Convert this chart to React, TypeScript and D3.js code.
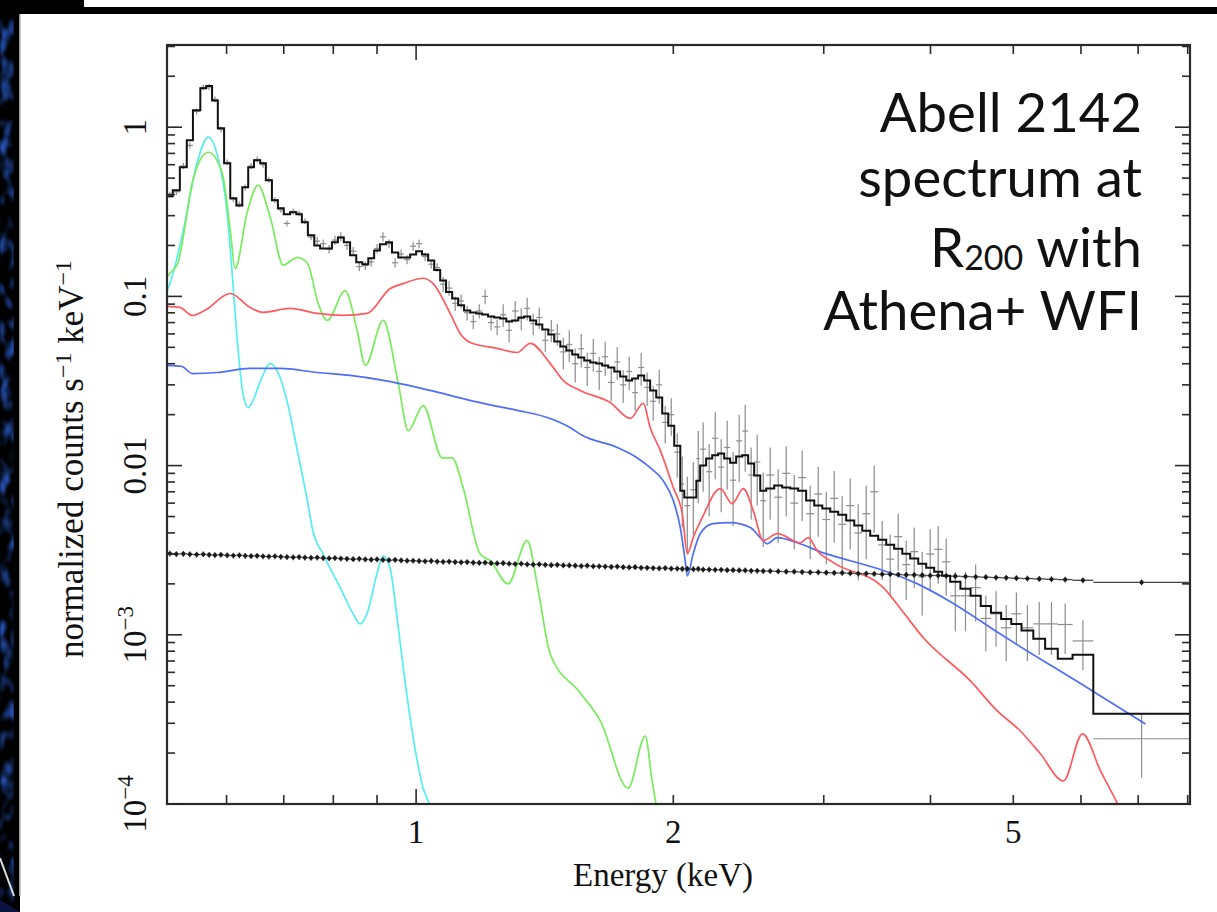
import React, { useEffect, useRef } from "react";
import * as d3 from "d3";

// Spectral bins (keV edges) shared by the data, the total model and the particle background
const binEdges = [
  0.511, 0.519, 0.529, 0.539, 0.548, 0.559, 0.568, 0.577, 0.586, 0.596,
  0.606, 0.616, 0.626, 0.636, 0.646, 0.657, 0.667, 0.678, 0.689, 0.700,
  0.712, 0.724, 0.735, 0.747, 0.760, 0.772, 0.785, 0.797, 0.810, 0.823,
  0.837, 0.851, 0.865, 0.879, 0.893, 0.907, 0.922, 0.937, 0.953, 0.968,
  0.984, 1.000, 1.016, 1.033, 1.050, 1.067, 1.084, 1.102, 1.120, 1.138,
  1.157, 1.176, 1.195, 1.214, 1.234, 1.254, 1.275, 1.295, 1.317, 1.338,
  1.360, 1.382, 1.405, 1.428, 1.451, 1.475, 1.499, 1.523, 1.548, 1.573,
  1.599, 1.625, 1.651, 1.678, 1.706, 1.733, 1.762, 1.790, 1.819, 1.849,
  1.879, 1.910, 1.941, 1.973, 2.005, 2.038, 2.060, 2.094, 2.128, 2.150,
  2.185, 2.221, 2.257, 2.294, 2.331, 2.369, 2.408, 2.447, 2.487, 2.528,
  2.569, 2.625, 2.682, 2.741, 2.800, 2.861, 2.924, 2.988, 3.053, 3.119,
  3.187, 3.257, 3.328, 3.400, 3.474, 3.550, 3.627, 3.707, 3.787, 3.870,
  3.954, 4.040, 4.128, 4.218, 4.336, 4.456, 4.580, 4.708, 4.839, 4.973,
  5.112, 5.277, 5.448, 5.637, 5.866, 6.203, 8.047,
];

// Total folded model per bin (counts s^-1 keV^-1)
const totalModel = [
  0.391, 0.424, 0.580, 0.838, 1.26, 1.70, 1.75, 1.44, 0.986, 0.612,
  0.380, 0.345, 0.442, 0.580, 0.638, 0.612, 0.486, 0.370, 0.332, 0.306,
  0.314, 0.306, 0.274, 0.230, 0.200, 0.192, 0.192, 0.209, 0.223, 0.209,
  0.175, 0.159, 0.155, 0.168, 0.187, 0.203, 0.209, 0.182, 0.170, 0.170,
  0.177, 0.185, 0.177, 0.163, 0.143, 0.124, 0.106, 0.0973, 0.0885, 0.0826,
  0.0804, 0.0793, 0.0782, 0.0761, 0.0751, 0.0741, 0.0711, 0.0721, 0.0751, 0.0761,
  0.0721, 0.0683, 0.0638, 0.0596, 0.0542, 0.0506, 0.0479, 0.0454, 0.0436, 0.0418,
  0.0407, 0.0401, 0.0391, 0.0380, 0.0360, 0.0336, 0.0318, 0.0327, 0.0341, 0.0318,
  0.0278, 0.0253, 0.0203, 0.0172, 0.0131, 0.00711, 0.00647, 0.00647, 0.00815, 0.0100,
  0.0110, 0.0115, 0.0118, 0.0110, 0.0104, 0.0113, 0.0115, 0.0103, 0.00873, 0.00711,
  0.00731, 0.00762, 0.00741, 0.00731, 0.00711, 0.00621, 0.00580, 0.00557, 0.00534, 0.00513,
  0.00473, 0.00442, 0.00412, 0.00385, 0.00365, 0.00341, 0.00323, 0.00301, 0.00282, 0.00263,
  0.00249, 0.00236, 0.00223, 0.00206, 0.00187, 0.00170, 0.00148, 0.00135, 0.00124, 0.00116,
  0.00106, 0.000947, 0.000826, 0.000721, 0.000762, 0.000341,
];

// Simulated counts per bin and their 1-sigma errors
const dataCounts = [
  0.400, 0.415, 0.590, 0.780, 1.24, 1.72, 1.73, 1.46, 0.970, 0.620,
  0.375, 0.350, 0.440, 0.590, 0.645, 0.600, 0.490, 0.372, 0.325, 0.270,
  0.318, 0.310, 0.278, 0.224, 0.212, 0.205, 0.190, 0.215, 0.225, 0.200,
  0.185, 0.150, 0.152, 0.160, 0.192, 0.225, 0.205, 0.158, 0.178, 0.165,
  0.198, 0.205, 0.172, 0.155, 0.148, 0.118, 0.112, 0.091, 0.094, 0.080,
  0.071, 0.082, 0.100, 0.070, 0.066, 0.078, 0.063, 0.082, 0.074, 0.085,
  0.069, 0.075, 0.055, 0.063, 0.060, 0.047, 0.052, 0.040, 0.049, 0.038,
  0.046, 0.036, 0.044, 0.031, 0.041, 0.030, 0.036, 0.027, 0.038, 0.029,
  0.024, 0.030, 0.018, 0.020, 0.012, 0.0078, 0.0058, 0.0072, 0.0110, 0.0125,
  0.0092, 0.0145, 0.0098, 0.0128, 0.0082, 0.0140, 0.0160, 0.0088, 0.0105, 0.0062,
  0.0088, 0.0065, 0.0090, 0.0060, 0.0085, 0.0052, 0.0068, 0.0048, 0.0064, 0.0045,
  0.0058, 0.0040, 0.0052, 0.0070, 0.0034, 0.0028, 0.0038, 0.0026, 0.0031, 0.0022,
  0.0030, 0.0032, 0.0027, 0.0017, 0.0017, 0.0019, 0.00125, 0.00133, 0.00110, 0.00133,
  0.00110, 0.00116, 0.00116, 0.00115, 0.00092, 0.000243,
];

const dataErrors = [
  0.016, 0.017, 0.024, 0.031, 0.05, 0.068, 0.069, 0.058, 0.039, 0.025,
  0.015, 0.014, 0.018, 0.024, 0.026, 0.024, 0.020, 0.015, 0.013, 0.011,
  0.013, 0.012, 0.011, 0.009, 0.013, 0.012, 0.011, 0.013, 0.014, 0.012,
  0.011, 0.009, 0.009, 0.010, 0.012, 0.014, 0.012, 0.010, 0.011, 0.010,
  0.012, 0.012, 0.010, 0.009, 0.009, 0.012, 0.011, 0.009, 0.009, 0.008,
  0.007, 0.008, 0.010, 0.007, 0.007, 0.012, 0.0095, 0.012, 0.011, 0.013,
  0.010, 0.011, 0.008, 0.0095, 0.009, 0.010, 0.011, 0.009, 0.011, 0.0085,
  0.010, 0.008, 0.010, 0.007, 0.009, 0.0066, 0.008, 0.006, 0.0085, 0.0065,
  0.0055, 0.0068, 0.0045, 0.005, 0.0035, 0.0035, 0.0028, 0.0033, 0.005, 0.0055,
  0.0042, 0.0062, 0.0045, 0.0056, 0.0038, 0.006, 0.0068, 0.004, 0.0047, 0.0029,
  0.004, 0.003, 0.004, 0.0028, 0.0038, 0.0024, 0.003, 0.0022, 0.0029, 0.0021,
  0.0026, 0.0019, 0.0024, 0.003, 0.0013, 0.0011, 0.0014, 0.001, 0.0012, 0.0009,
  0.0012, 0.0012, 0.001, 0.00065, 0.00065, 0.0007, 0.00045, 0.00048, 0.0004, 0.00045,
  0.0004, 0.0004, 0.0004, 0.00038, 0.0003, 0.0001,
];

// Non-X-ray (particle) background per bin
const nxbCounts = [
  0.00302, 0.00300, 0.00301, 0.00299, 0.00298, 0.00299, 0.00297, 0.00296, 0.00297, 0.00295,
  0.00294, 0.00295, 0.00293, 0.00292, 0.00293, 0.00291, 0.00290, 0.00291, 0.00289, 0.00288,
  0.00287, 0.00288, 0.00286, 0.00285, 0.00286, 0.00284, 0.00283, 0.00284, 0.00282, 0.00281,
  0.00280, 0.00281, 0.00279, 0.00278, 0.00279, 0.00277, 0.00276, 0.00277, 0.00275, 0.00274,
  0.00274, 0.00273, 0.00272, 0.00273, 0.00271, 0.00270, 0.00271, 0.00269, 0.00268, 0.00269,
  0.00267, 0.00266, 0.00267, 0.00265, 0.00264, 0.00265, 0.00263, 0.00262, 0.00263, 0.00261,
  0.00260, 0.00261, 0.00259, 0.00258, 0.00259, 0.00257, 0.00257, 0.00256, 0.00255, 0.00256,
  0.00254, 0.00254, 0.00253, 0.00252, 0.00253, 0.00251, 0.00250, 0.00251, 0.00249, 0.00249,
  0.00248, 0.00247, 0.00248, 0.00246, 0.00246, 0.00245, 0.00245, 0.00244, 0.00245, 0.00243,
  0.00243, 0.00242, 0.00242, 0.00241, 0.00241, 0.00240, 0.00240, 0.00239, 0.00239, 0.00238,
  0.00238, 0.00237, 0.00236, 0.00236, 0.00235, 0.00234, 0.00234, 0.00233, 0.00232, 0.00232,
  0.00231, 0.00230, 0.00230, 0.00229, 0.00228, 0.00228, 0.00227, 0.00226, 0.00226, 0.00225,
  0.00224, 0.00224, 0.00223, 0.00222, 0.00221, 0.00220, 0.00219, 0.00218, 0.00217, 0.00216,
  0.00215, 0.00214, 0.00213, 0.00212, 0.00210, 0.00204,
];

// Model components: [energy keV, counts s^-1 keV^-1]
const localBubble: [number, number][] = [
  [0.511, 0.108], [0.515, 0.119], [0.534, 0.246], [0.554, 0.612], [0.571, 0.873],
  [0.586, 0.665], [0.601, 0.310], [0.610, 0.124], [0.619, 0.0479], [0.627, 0.0267],
  [0.636, 0.0220], [0.644, 0.0242], [0.660, 0.0332], [0.675, 0.0402], [0.689, 0.0355],
  [0.706, 0.0242], [0.726, 0.0123], [0.746, 0.00621], [0.757, 0.00412], [0.778, 0.00301],
  [0.815, 0.00190], [0.844, 0.00133], [0.860, 0.00116], [0.876, 0.00133], [0.900, 0.00230],
  [0.915, 0.00293], [0.932, 0.00249], [0.950, 0.00126], [0.966, 0.000638], [0.984, 0.000323],
  [1.003, 0.000180], [1.019, 0.000124], [1.033, 0.000104], [1.047, 0.000085],
];

const galacticHalo: [number, number][] = [
  [0.511, 0.130], [0.515, 0.137], [0.526, 0.157], [0.548, 0.486], [0.571, 0.711],
  [0.593, 0.535], [0.606, 0.246], [0.614, 0.146], [0.634, 0.310], [0.653, 0.454],
  [0.675, 0.293], [0.699, 0.153], [0.726, 0.170], [0.746, 0.157], [0.768, 0.0910],
  [0.787, 0.0721], [0.826, 0.108], [0.853, 0.0629], [0.872, 0.0391], [0.915, 0.0721],
  [0.953, 0.0306], [0.979, 0.0161], [1.019, 0.0226], [1.073, 0.0111], [1.102, 0.0111],
  [1.135, 0.00741], [1.188, 0.00301], [1.221, 0.00274], [1.281, 0.00200], [1.349, 0.00360],
  [1.390, 0.00182], [1.435, 0.000772], [1.556, 0.000454], [1.643, 0.000310], [1.771, 0.000124],
  [1.854, 0.000252], [1.889, 0.000137], [1.910, 0.000098], [1.930, 0.000070],
];

const clusterEmission: [number, number][] = [
  [0.511, 0.0873], [0.529, 0.0861], [0.547, 0.0772], [0.566, 0.0827], [0.606, 0.104],
  [0.639, 0.0861], [0.662, 0.0804], [0.712, 0.0849], [0.766, 0.0793], [0.821, 0.0772],
  [0.876, 0.0793], [0.932, 0.111], [0.966, 0.119], [1.019, 0.128], [1.047, 0.119],
  [1.096, 0.0793], [1.126, 0.0604], [1.157, 0.0534], [1.244, 0.0493], [1.313, 0.0466],
  [1.360, 0.0527], [1.435, 0.0402], [1.486, 0.0319], [1.556, 0.0278], [1.687, 0.0236],
  [1.781, 0.0190], [1.845, 0.0233], [1.879, 0.0168], [1.931, 0.0123], [2.000, 0.00741],
  [2.049, 0.00520], [2.077, 0.00301], [2.110, 0.00375], [2.162, 0.00492], [2.270, 0.00731],
  [2.344, 0.00596], [2.415, 0.00731], [2.481, 0.00542], [2.549, 0.00360], [2.647, 0.00396],
  [2.817, 0.00350], [2.877, 0.00375], [2.948, 0.00314], [3.078, 0.00267], [3.523, 0.00190],
  [3.688, 0.00143], [3.924, 0.00096], [4.454, 0.000534], [4.789, 0.000355], [5.096, 0.000270],
  [5.379, 0.000198], [5.723, 0.000137], [6.025, 0.000260], [6.325, 0.000157], [6.637, 0.000098],
  [6.800, 0.000075],
];

const cosmicBackground: [number, number][] = [
  [0.511, 0.0391], [0.532, 0.0385], [0.547, 0.0350], [0.585, 0.0355], [0.639, 0.0375],
  [0.693, 0.0375], [0.766, 0.0355], [0.837, 0.0341], [0.915, 0.0319], [1.003, 0.0290],
  [1.096, 0.0260], [1.198, 0.0233], [1.313, 0.0212], [1.435, 0.0190], [1.514, 0.0168],
  [1.564, 0.0151], [1.719, 0.0128], [1.815, 0.0111], [1.879, 0.00973], [1.946, 0.00815],
  [2.000, 0.00621], [2.038, 0.00430], [2.065, 0.00274], [2.077, 0.00223], [2.110, 0.00301],
  [2.150, 0.00396], [2.227, 0.00454], [2.331, 0.00460], [2.461, 0.00430], [2.528, 0.00375],
  [2.576, 0.00345], [2.647, 0.00375], [2.793, 0.00350], [2.996, 0.00305], [3.222, 0.00274],
  [3.523, 0.00240], [3.862, 0.00200], [4.221, 0.00157], [4.829, 0.00101], [6.189, 0.000466],
  [7.140, 0.000297],
];

const xTickLabels = [1, 2, 5];
const yLabelValues = [1, 0.1, 0.01, 0.001, 0.0001];
const yLabelMantissa = ["1", "0.1", "0.01", "10", "10"];
const yLabelExponent = ["", "", "", "\u22123", "\u22124"];

const W = 1217;
const H = 912;
const PLOT = { left: 167, right: 1190, top: 45, bottom: 804 };
const SERIF = "'Liberation Serif', 'Times New Roman', serif";
const SANS = "Lato, 'Open Sans', sans-serif";

export default function App() {
  const ref = useRef<SVGSVGElement>(null);

  useEffect(() => {
    const svg = d3.select(ref.current);
    svg.selectAll("*").remove();

    const x = d3.scaleLog().domain([0.511, 8.05]).range([PLOT.left, PLOT.right]);
    const y = d3.scaleLog().domain([1e-4, 3.06]).range([PLOT.bottom, PLOT.top]);

    const defs = svg.append("defs");
    defs.append("clipPath").attr("id", "plotClip")
      .append("rect")
      .attr("x", PLOT.left).attr("y", PLOT.top)
      .attr("width", PLOT.right - PLOT.left).attr("height", PLOT.bottom - PLOT.top);
    const nebula = defs.append("filter").attr("id", "nebula")
      .attr("x", 0).attr("y", 0).attr("width", "100%").attr("height", "100%");
    nebula.append("feTurbulence").attr("type", "fractalNoise")
      .attr("baseFrequency", "0.09 0.05").attr("numOctaves", 2).attr("seed", 7);
    nebula.append("feColorMatrix").attr("type", "matrix")
      .attr("values", "0 0 0 0 0.02  0 0 0 0 0.09  0 0 0 0 0.5  3.2 0 0 0 -1.45");
    nebula.append("feGaussianBlur").attr("stdDeviation", 1.2);
    nebula.append("feComposite").attr("in2", "SourceGraphic").attr("operator", "in");

    // slide background and frame
    svg.append("rect").attr("width", W).attr("height", H).attr("fill", "#fff");
    svg.append("rect").attr("x", 0).attr("y", 0).attr("width", 20).attr("height", H).attr("fill", "#000");
    svg.append("rect").attr("x", 0).attr("y", 0).attr("width", 14).attr("height", H)
      .attr("fill", "#000").attr("filter", "url(#nebula)");
    svg.append("rect").attr("x", 19).attr("y", 14).attr("width", 1.5).attr("height", H - 30).attr("fill", "#9a9a9a");
    svg.append("rect").attr("x", 0).attr("y", 0).attr("width", 84).attr("height", 14).attr("fill", "#000");
    svg.append("rect").attr("x", 0).attr("y", 7).attr("width", W).attr("height", 7).attr("fill", "#000");
    svg.append("path").attr("d", "M84,10 L100,14 L84,14 Z").attr("fill", "#000");
    svg.append("path").attr("d", "M0,858 L14,896").attr("stroke", "#ddd").attr("stroke-width", 2);
    svg.append("path").attr("d", "M0,900 L20,912 L0,912 Z").attr("fill", "#0a1440");

    const plot = svg.append("g").attr("clip-path", "url(#plotClip)");

    const bins = totalModel.map((m, i) => ({
      e0: binEdges[i],
      e1: binEdges[i + 1],
      ec: Math.sqrt(binEdges[i] * binEdges[i + 1]),
      model: m,
      data: dataCounts[i],
      err: dataErrors[i],
      nxb: nxbCounts[i],
    }));

    // data crosses
    const dataG = plot.append("g").attr("stroke", "#8c8c8c").attr("stroke-width", 1.2).attr("fill", "none");
    bins.forEach((b) => {
      const lo = Math.max(b.data - b.err, 5e-5);
      dataG.append("line")
        .attr("x1", x(b.ec)).attr("x2", x(b.ec))
        .attr("y1", y(b.data + b.err)).attr("y2", y(lo));
      dataG.append("line")
        .attr("x1", x(b.e0)).attr("x2", x(b.e1))
        .attr("y1", y(b.data)).attr("y2", y(b.data));
    });

    // model components
    const line = d3.line<[number, number]>()
      .x((d) => x(d[0]))
      .y((d) => y(d[1]))
      .curve(d3.curveMonotoneX);
    const components: [[number, number][], string][] = [
      [localBubble, "#55eef0"],
      [galacticHalo, "#78ec5c"],
      [cosmicBackground, "#4f6ef5"],
      [clusterEmission, "#ff5a5f"],
    ];
    components.forEach(([pts, color]) => {
      plot.append("path").attr("d", line(pts)).attr("fill", "none")
        .attr("stroke", color).attr("stroke-width", 1.7);
    });

    // particle background
    const nxbG = plot.append("g");
    bins.forEach((b) => {
      nxbG.append("line")
        .attr("x1", x(b.e0)).attr("x2", x(b.e1))
        .attr("y1", y(b.nxb)).attr("y2", y(b.nxb))
        .attr("stroke", "#444").attr("stroke-width", 1.3);
      nxbG.append("line")
        .attr("x1", x(b.ec)).attr("x2", x(b.ec))
        .attr("y1", y(b.nxb * 1.04)).attr("y2", y(b.nxb / 1.04))
        .attr("stroke", "#222").attr("stroke-width", 1.2);
      nxbG.append("circle")
        .attr("cx", x(b.ec)).attr("cy", y(b.nxb)).attr("r", 2.1)
        .attr("fill", "#1a1a1a");
    });

    // total model histogram
    const stepPts: [number, number][] = bins.map((b) => [b.e0, b.model]);
    stepPts.push([bins[bins.length - 1].e1, bins[bins.length - 1].model]);
    const stepLine = d3.line<[number, number]>()
      .x((d) => x(d[0]))
      .y((d) => y(d[1]))
      .curve(d3.curveStepAfter);
    plot.append("path").attr("d", stepLine(stepPts)).attr("fill", "none")
      .attr("stroke", "#111").attr("stroke-width", 2);

    // axes frame and ticks (inside, on all four sides)
    const axisG = svg.append("g").attr("stroke", "#2a2a2a").attr("fill", "none");
    axisG.append("rect")
      .attr("x", PLOT.left).attr("y", PLOT.top)
      .attr("width", PLOT.right - PLOT.left).attr("height", PLOT.bottom - PLOT.top)
      .attr("stroke-width", 2.2);

    const isDecade = (v: number) => Math.abs(Math.log10(v) - Math.round(Math.log10(v))) < 1e-6;

    x.ticks().forEach((t) => {
      const len = isDecade(t) ? 15 : 9;
      const px = x(t);
      axisG.append("line").attr("x1", px).attr("x2", px)
        .attr("y1", PLOT.bottom).attr("y2", PLOT.bottom - len).attr("stroke-width", 1.6);
      axisG.append("line").attr("x1", px).attr("x2", px)
        .attr("y1", PLOT.top).attr("y2", PLOT.top + len).attr("stroke-width", 1.6);
    });
    y.ticks().forEach((t) => {
      const len = isDecade(t) ? 15 : 8;
      const py = y(t);
      axisG.append("line").attr("x1", PLOT.left).attr("x2", PLOT.left + len)
        .attr("y1", py).attr("y2", py).attr("stroke-width", 1.6);
      axisG.append("line").attr("x1", PLOT.right).attr("x2", PLOT.right - len)
        .attr("y1", py).attr("y2", py).attr("stroke-width", 1.6);
    });

    // tick labels
    const labelG = svg.append("g").attr("font-family", SERIF).attr("fill", "#111");
    xTickLabels.forEach((t) => {
      labelG.append("text").attr("x", x(t)).attr("y", 843)
        .attr("text-anchor", "middle").attr("font-size", 33).text(String(t));
    });
    yLabelValues.forEach((v, i) => {
      const txt = labelG.append("text")
        .attr("transform", `translate(146,${y(v)}) rotate(-90)`)
        .attr("text-anchor", "middle").attr("font-size", 33);
      txt.append("tspan").text(yLabelMantissa[i]);
      if (yLabelExponent[i]) {
        txt.append("tspan").attr("dy", -13).attr("font-size", 23).text(yLabelExponent[i]);
      }
    });

    // axis titles
    labelG.append("text").attr("x", 663).attr("y", 886)
      .attr("text-anchor", "middle").attr("font-size", 33).text("Energy (keV)");
    const yTitle = labelG.append("text")
      .attr("transform", `translate(83,459) rotate(-90)`)
      .attr("text-anchor", "middle").attr("font-size", 35);
    yTitle.append("tspan").text("normalized counts s");
    yTitle.append("tspan").attr("dy", -12).attr("font-size", 24).text("\u22121");
    yTitle.append("tspan").attr("dy", 12).text(" keV");
    yTitle.append("tspan").attr("dy", -12).attr("font-size", 24).text("\u22121");

    // annotation block
    const note = svg.append("g").attr("font-family", SANS).attr("fill", "#111")
      .attr("text-anchor", "end").attr("font-size", 54.5);
    note.append("text").attr("x", 1142).attr("y", 132).text("Abell 2142");
    note.append("text").attr("x", 1142).attr("y", 197).text("spectrum at");
    const r200 = note.append("text").attr("x", 1142).attr("y", 267);
    r200.append("tspan").text("R");
    r200.append("tspan").attr("font-size", 34).attr("dy", 3).text("200");
    r200.append("tspan").attr("dy", -3).text(" with");
    note.append("text").attr("x", 1142).attr("y", 330).text("Athena+ WFI");
  }, []);

  return (
    <svg
      ref={ref}
      width={W}
      height={H}
      style={{ position: "absolute", left: 0, top: 0, display: "block" }}
    />
  );
}
